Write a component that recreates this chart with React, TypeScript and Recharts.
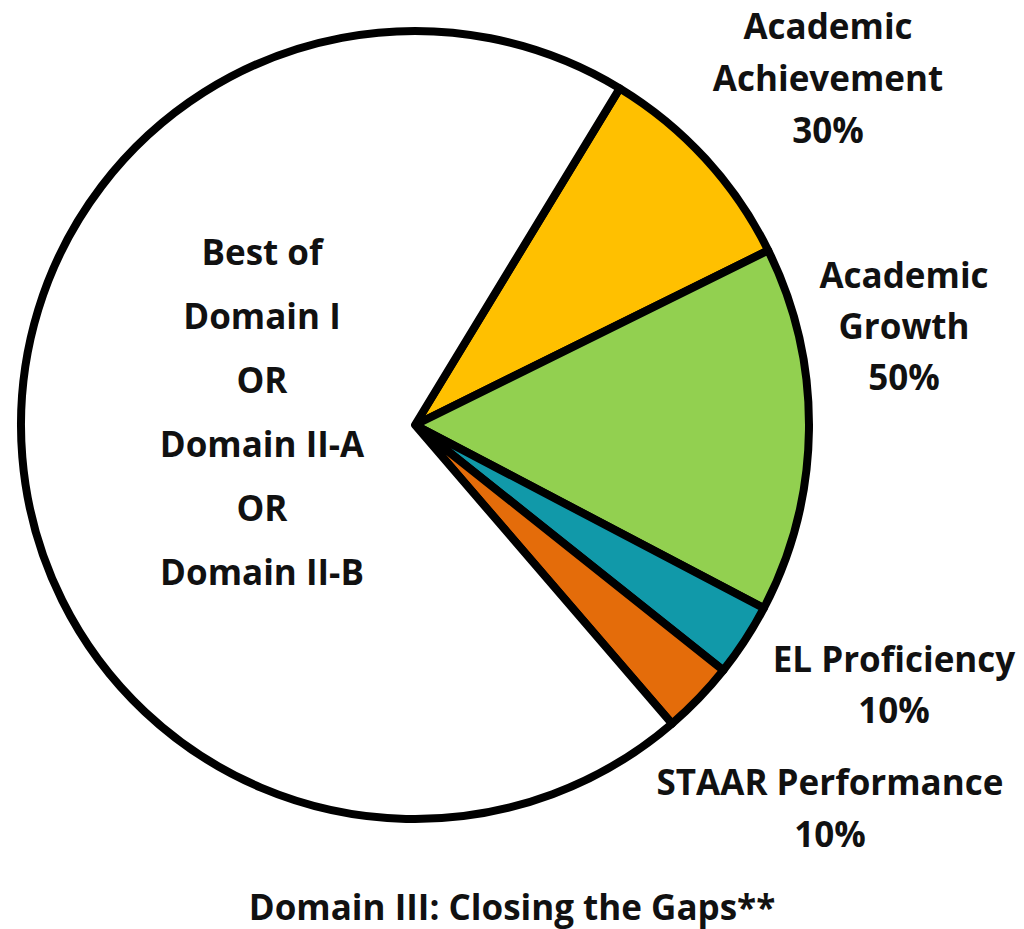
import React from "react";
import { PieChart, Pie, Cell } from "recharts";

// Slice names, weights (share of the whole pie) and printed labels
const sliceNames = [
  "Academic Achievement",
  "Academic Growth",
  "EL Proficiency",
  "STAAR Performance",
  "Best of Domain I OR Domain II-A OR Domain II-B",
];
const sliceValues = [9, 15, 3, 3, 70];
const sliceColors = ["#FFC000", "#92D050", "#1199A9", "#E46C0A", "#FFFFFF"];
const sliceLabelLines: string[][] = [
  ["Academic", "Achievement", "30%"],
  ["Academic", "Growth", "50%"],
  ["EL Proficiency", "10%"],
  ["STAAR Performance", "10%"],
  ["Best of", "Domain I", "OR", "Domain II-A", "OR", "Domain II-B"],
];
const chartTitle = "Domain III: Closing the Gaps**";

const data = sliceNames.map((name, i) => ({ name, value: sliceValues[i] }));

// layout (label anchor: center x, first baseline y, line step)
const LABEL_LAYOUT = [
  { x: 828, y: 39, step: 52 },
  { x: 904, y: 288, step: 51 },
  { x: 894, y: 672, step: 51 },
  { x: 830, y: 795, step: 52 },
  { x: 262, y: 265, step: 64 },
];

const FONT = "'Open Sans', sans-serif";
const TEXT_COLOR = "#111111";
const STROKE_W = 8;

const renderLabel = (props: any) => {
  const i = props.index as number;
  const lay = LABEL_LAYOUT[i];
  const lines = sliceLabelLines[i];
  return (
    <text
      key={`lbl-${i}`}
      x={lay.x}
      y={lay.y}
      textAnchor="middle"
      fontFamily={FONT}
      fontWeight={700}
      fontSize={35}
      fill={TEXT_COLOR}
    >
      {lines.map((l, j) => (
        <tspan key={j} x={lay.x} y={lay.y + j * lay.step}>
          {l}
        </tspan>
      ))}
    </text>
  );
};

export default function App() {
  return (
    <div style={{ position: "absolute", left: 0, top: 0, width: 1024, height: 929, background: "#fff" }}>
      <PieChart width={1024} height={929} margin={{ top: 0, right: 0, bottom: 0, left: 0 }}>
        <Pie
          data={data}
          dataKey="value"
          nameKey="name"
          cx={415}
          cy={425}
          innerRadius={0}
          outerRadius={394}
          startAngle={58.7}
          endAngle={58.7 - 360}
          stroke="#000000"
          strokeWidth={STROKE_W}
          strokeLinejoin="round"
          label={renderLabel}
          labelLine={false}
          isAnimationActive={false}
        >
          {data.map((d, i) => (
            <Cell key={d.name} fill={sliceColors[i]} stroke="#000000" strokeWidth={STROKE_W} />
          ))}
        </Pie>
      </PieChart>
      <svg width={1024} height={929} style={{ position: "absolute", left: 0, top: 0, pointerEvents: "none" }}>
        <text
          x={512}
          y={920}
          textAnchor="middle"
          fontFamily={FONT}
          fontWeight={700}
          fontSize={35}
          fill={TEXT_COLOR}
        >
          {chartTitle}
        </text>
      </svg>
    </div>
  );
}
